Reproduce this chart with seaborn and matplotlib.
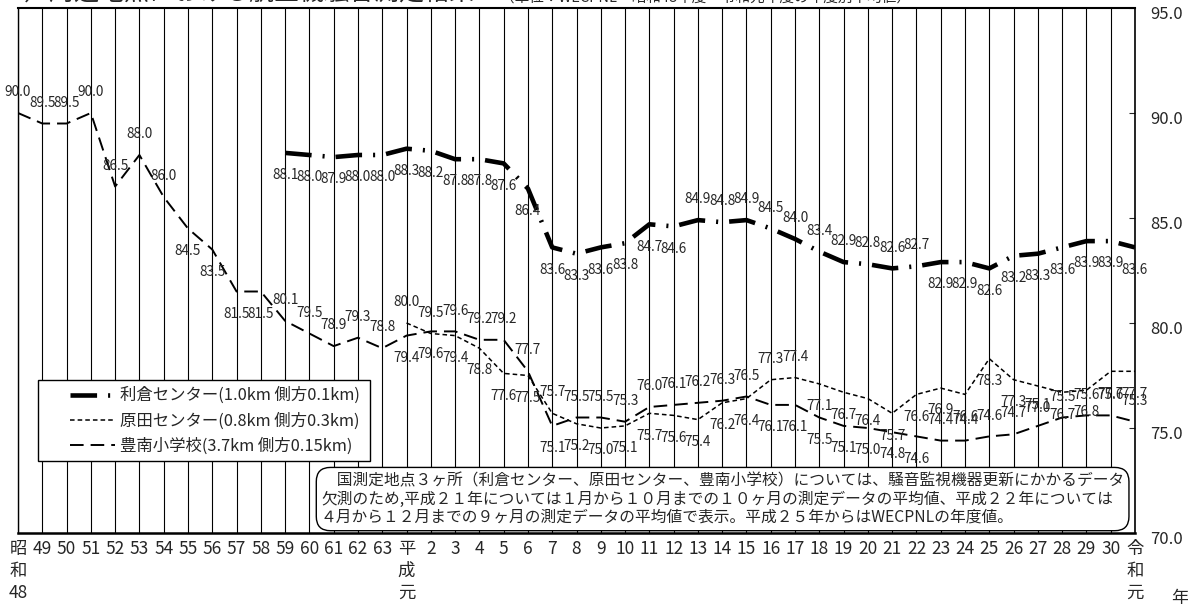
import matplotlib
matplotlib.use("Agg")
import matplotlib.pyplot as plt
import matplotlib.transforms as mtransforms
from matplotlib.patches import Rectangle
import numpy as np
import pandas as pd
import seaborn as sns

# Fiscal-year categories (昭和48 … 令和元)
year_labels = [
    "昭\n和\n48", "49", "50", "51", "52", "53", "54", "55", "56", "57",
    "58", "59", "60", "61", "62", "63", "平\n成\n元", "2", "3", "4",
    "5", "6", "7", "8", "9", "10", "11", "12", "13", "14",
    "15", "16", "17", "18", "19", "20", "21", "22", "23", "24",
    "25", "26", "27", "28", "29", "30", "令\n和\n元",
]

# WECPNL values; each series runs up to the latest year
rikura = [88.1, 88.0, 87.9, 88.0, 88.0, 88.3, 88.2, 87.8, 87.8, 87.6,
          86.4, 83.6, 83.3, 83.6, 83.8, 84.7, 84.6, 84.9, 84.8, 84.9,
          84.5, 84.0, 83.4, 82.9, 82.8, 82.6, 82.7, 82.9, 82.9, 82.6,
          83.2, 83.3, 83.6, 83.9, 83.9, 83.6]
harada = [80.0, 79.5, 79.4, 78.8, 77.6, 77.5, 75.7, 75.2, 75.0, 75.1,
          75.7, 75.6, 75.4, 76.2, 76.4, 77.3, 77.4, 77.1, 76.7, 76.4,
          75.7, 76.6, 76.9, 76.6, 78.3, 77.3, 77.0, 76.7, 76.8, 77.7,
          77.7]
toyominami = [90.0, 89.5, 89.5, 90.0, 86.5, 88.0, 86.0, 84.5, 83.5, 81.5,
              81.5, 80.1, 79.5, 78.9, 79.3, 78.8, 79.4, 79.6, 79.6, 79.2,
              79.2, 77.7, 75.1, 75.5, 75.5, 75.3, 76.0, 76.1, 76.2, 76.3,
              76.5, 76.1, 76.1, 75.5, 75.1, 75.0, 74.8, 74.6, 74.4, 74.4,
              74.6, 74.7, 75.1, 75.5, 75.6, 75.6, 75.3]

series_names = ["利倉センター(1.0km 側方0.1km)",
                "原田センター(0.8km 側方0.3km)",
                "豊南小学校(3.7km 側方0.15km)"]

# Which side of the line each value label sits on (u = above, d = below)
label_side = {
    series_names[0]: "d" * 17 + "u" * 10 + "d" * 9,
    series_names[1]: "uud" + "ddd" + "u" + "d" * 8 + "uu" + "d" * 14,
    series_names[2]: "u" * 7 + "d" * 4 + "u" * 5 + "ddu" + "uuu" + "d"
                     + "u" * 8 + "d" * 7 + "u" * 9,
}

note_text = ("　国測定地点３ヶ所（利倉センター、原田センター、豊南小学校）については、騒音監視機器更新にかかるデータ\n"
             "欠測のため,平成２１年については１月から１０月までの１０ヶ月の測定データの平均値、平成２２年については\n"
             "４月から１２月までの９ヶ月の測定データの平均値で表示。平成２５年からはWECPNLの年度値。")
title_text = "３）周辺地点における航空機騒音測定結果"
subtitle_text = "（単位：WECPNL　昭和48年度～令和元年度の年度別平均値）"

sns.set_style("white")
plt.rcParams["font.family"] = ["Noto Sans CJK JP", "DejaVu Sans"]

positions = np.arange(len(year_labels))
frames = []
for name, vals in zip(series_names, [rikura, harada, toyominami]):
    frames.append(pd.DataFrame({"pos": positions[len(positions) - len(vals):],
                                "value": vals, "site": name}))
df = pd.concat(frames, ignore_index=True)

styles = {
    series_names[0]: dict(lw=3.3, ls=(0, (5.8, 2.4, 0.45, 2.4))),
    series_names[1]: dict(lw=1.1, ls=(0, (3.0, 2.0))),
    series_names[2]: dict(lw=1.4, ls=(0, (7.0, 3.6))),
}

fig = plt.figure(figsize=(11.88, 6.05), dpi=100)
ax = fig.add_axes([18 / 1188, 72 / 605, 1117 / 1188, 525 / 605])

# vertical year grid
ax.vlines(positions, 70, 95, color="black", lw=0.8, zorder=1)

for name in series_names:
    sub = df[df["site"] == name]
    st = styles[name]
    sns.lineplot(data=sub, x="pos", y="value", ax=ax, color="black",
                 lw=st["lw"], linestyle=st["ls"], label=name, zorder=3,
                 legend=False)
    for (p, v), side in zip(sub[["pos", "value"]].itertuples(index=False),
                            label_side[name]):
        ax.annotate(f"{v:.1f}", (p, v), xytext=(0, 15 if side == "u" else -16),
                    textcoords="offset points", ha="center", va="center",
                    fontsize=9.8, zorder=4)

ax.set_xlim(0, len(year_labels) - 1)
ax.set_ylim(70, 95)
ax.set_xlabel("")
ax.set_ylabel("")
ax.set_xticks(positions)
ax.set_xticklabels(year_labels, fontsize=12.5, linespacing=1.27)
ax.tick_params(axis="x", direction="in", length=5, width=0.8, pad=5)
ax.yaxis.tick_right()
ax.set_yticks([70, 75, 80, 85, 90, 95])
ax.set_yticklabels([f"{t:.1f}" for t in [70, 75, 80, 85, 90, 95]], fontsize=12)
ax.tick_params(axis="y", direction="in", length=4, width=0.8, pad=11, right=True, left=False)
shift = mtransforms.ScaledTranslation(0, -4 / 100, fig.dpi_scale_trans)
for lab in ax.get_yticklabels():
    lab.set_transform(lab.get_transform() + shift)

for side, sp in ax.spines.items():
    sp.set_visible(True)
    sp.set_color("black")
    sp.set_linewidth(1.0)
ax.spines["bottom"].set_linewidth(1.8)
ax.spines["top"].set_linewidth(1.5)
ax.spines["right"].set_linewidth(1.2)

# legend frame and entries
ax.add_patch(Rectangle((20 / 1117, 72 / 525), 332 / 1117, 81 / 525,
                       transform=ax.transAxes, facecolor="white",
                       edgecolor="black", lw=1.0, zorder=5))
handles, labels = ax.get_legend_handles_labels()
leg = ax.legend(handles, labels, loc="upper left",
                bbox_to_anchor=(52 / 1117, 146 / 525), frameon=False,
                borderpad=0, borderaxespad=0, handlelength=2.75,
                handletextpad=0.3, labelspacing=0.5, fontsize=11.8)
leg.set_zorder(6)

# explanatory note
ax.text(303 / 1117, 7 / 525, note_text, transform=ax.transAxes,
        ha="left", va="bottom", fontsize=11.3, linespacing=1.11, zorder=1.2,
        bbox=dict(boxstyle="round,pad=0.3,rounding_size=0.9",
                  facecolor="white", edgecolor="black", lw=1.0))

fig.text(1180 / 1188, 1 - 598 / 605, "年", fontsize=12.5, ha="center", va="center")
fig.text(0.0, 1 - 6 / 605, title_text, fontsize=18, ha="left", va="bottom")
fig.text(500 / 1188, 1 - 5 / 605, subtitle_text, fontsize=10.5, ha="left", va="bottom")

fig.savefig("out.png", dpi=100, facecolor="white")
